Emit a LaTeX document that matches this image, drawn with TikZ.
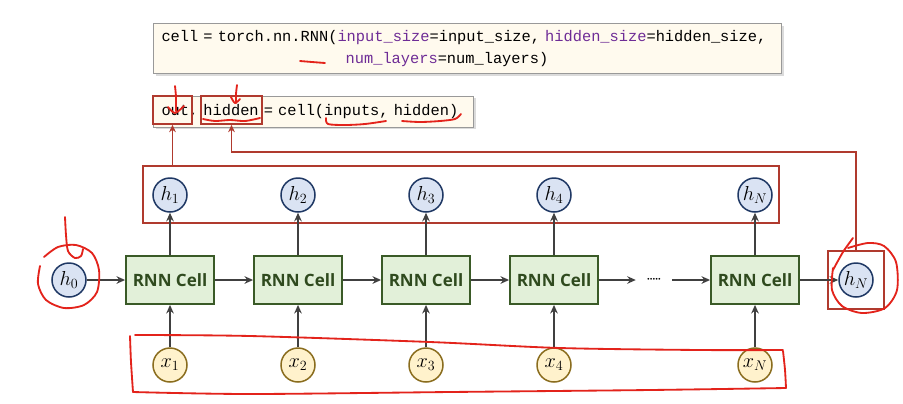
\documentclass[tikz,border=0pt]{standalone}
\usepackage{fontspec}
\setsansfont{Open Sans}
\newfontfamily\codefont{Liberation Mono}
\usetikzlibrary{arrows.meta}
\usetikzlibrary{shadows}

\definecolor{cellfill}{HTML}{E2F0D9}
\definecolor{celldraw}{HTML}{3A5A27}
\definecolor{celltext}{HTML}{2F4A1E}
\definecolor{hfill}{HTML}{DAE3F3}
\definecolor{hdraw}{HTML}{1F3864}
\definecolor{xfill}{HTML}{FFF2CC}
\definecolor{xdraw}{HTML}{8A6D1E}
\definecolor{arrowgray}{HTML}{404040}
\definecolor{codefill}{HTML}{FFFAEE}
\definecolor{kwpurple}{HTML}{6E2C96}
\definecolor{markred}{HTML}{B03A2E}
\definecolor{penred}{HTML}{E3231B}

\tikzset{
	rnncell/.style={draw=celldraw, line width=0.55mm, fill=cellfill, minimum width=26.4mm, minimum height=14.4mm, font=\sffamily\bfseries\fontsize{14.5}{16}\selectfont, text=celltext},
	hstate/.style={circle, draw=hdraw, line width=0.45mm, fill=hfill, minimum size=10.2mm, inner sep=0pt, font=\fontsize{17}{19}\selectfont},
	xinput/.style={circle, draw=xdraw, line width=0.45mm, fill=xfill, minimum size=10.2mm, inner sep=0pt, font=\fontsize{17}{19}\selectfont},
	flow/.style={draw=arrowgray, line width=0.45mm, -{Stealth[length=2.6mm, width=2.3mm, inset=0.9mm]}},
	codebox/.style={draw=gray!80, line width=0.3mm, fill=codefill, inner xsep=2.4mm, align=left, font=\codefont\fontsize{13.1}{18}\selectfont, drop shadow={shadow xshift=0.7mm, shadow yshift=-0.7mm, fill=gray!55}},
	markbox/.style={draw=markred, line width=0.5mm, inner sep=0pt},
	markarrow/.style={draw=markred, line width=0.45mm, -{Stealth[length=2.2mm, width=2mm]}},
	pen/.style={draw=penred, line width=0.55mm, line cap=round, line join=round}
}

\begin{document}
\begin{tikzpicture}[x=0.3mm, y=-0.3mm]
	\path[fill=white, use as bounding box] (0,0) rectangle (903,403);

	\node[codebox, anchor=north west, text width=183.6mm, minimum height=15mm] (rnncode) at (153,23) {cell = torch.nn.RNN(\textcolor{kwpurple}{input\_size}=input\_size, \textcolor{kwpurple}{hidden\_size}=hidden\_size,\\\hspace*{12em}\textcolor{kwpurple}{num\_layers}=num\_layers)};
	\node[codebox, anchor=west, text width=91.2mm, minimum height=9.3mm] (callcode) at (153,111.5) {out, hidden = cell(inputs, hidden)};

	\node[markbox, minimum width=11.7mm, minimum height=8.4mm] (outmark) at (172.5,110) {};
	\node[markbox, minimum width=18.3mm, minimum height=8.4mm] (hiddenmark) at (231.5,110) {};
	\node[markbox, minimum width=190.8mm, minimum height=17.1mm] (hbox) at (461,194.5) {};
	\node[markbox, minimum width=16.8mm, minimum height=17.4mm] (hNbox) at (856,280) {};

	\node[hstate] (h0) at (69,280) {$h_0$};
	\node[rnncell] (c1) at (170,280) {RNN Cell};
	\node[rnncell] (c2) at (298,280) {RNN Cell};
	\node[rnncell] (c3) at (426,280) {RNN Cell};
	\node[rnncell] (c4) at (554,280) {RNN Cell};
	\node[minimum width=10.8mm, inner sep=0pt, font=\fontsize{14}{16}\selectfont] (dots) at (654,280) {$\cdot\!\!\cdot\!\!\cdot\!\!\cdot\!\!\cdot$};
	\node[rnncell] (cN) at (755,280) {RNN Cell};
	\node[hstate] (hlast) at (856,280) {$h_N$};

	\node[hstate] (h1) at (170,195) {$h_1$};
	\node[hstate] (h2) at (298,195) {$h_2$};
	\node[hstate] (h3) at (426,195) {$h_3$};
	\node[hstate] (h4) at (554,195) {$h_4$};
	\node[hstate] (hN) at (755,195) {$h_N$};

	\node[xinput] (x1) at (170,365) {$x_1$};
	\node[xinput] (x2) at (298,365) {$x_2$};
	\node[xinput] (x3) at (426,365) {$x_3$};
	\node[xinput] (x4) at (554,365) {$x_4$};
	\node[xinput] (xN) at (755,365) {$x_N$};

	\draw[flow] (h0) -- (c1);
	\draw[flow] (c1) -- (c2);
	\draw[flow] (c2) -- (c3);
	\draw[flow] (c3) -- (c4);
	\draw[flow] (c4) -- (dots);
	\draw[flow] (dots) -- (cN);
	\draw[flow] (cN) -- (hlast);

	\draw[flow] (x1) -- (c1);
	\draw[flow] (x2) -- (c2);
	\draw[flow] (x3) -- (c3);
	\draw[flow] (x4) -- (c4);
	\draw[flow] (xN) -- (cN);
	\draw[flow] (c1) -- (h1);
	\draw[flow] (c2) -- (h2);
	\draw[flow] (c3) -- (h3);
	\draw[flow] (c4) -- (h4);
	\draw[flow] (cN) -- (hN);

	\coordinate (bend) at (856,152);
	\draw[markarrow] (outmark.south |- hbox.north) -- (outmark.south);
	\draw[markarrow] (hNbox.north) -- (bend) -| (hiddenmark.south);

	\draw[pen] plot[smooth] coordinates {(300,61) (312,62) (325,63)};
	\draw[pen] plot[smooth] coordinates {(175,86) (176,97) (176,111)};
	\draw[pen] plot[smooth] coordinates {(168,107) (175,113) (184,106)};
	\draw[pen] plot[smooth] coordinates {(237,85) (236,94) (236,103)};
	\draw[pen] plot[smooth] coordinates {(231,97) (235,103) (240,99)};
	\draw[pen] plot[smooth] coordinates {(203,119) (215,121) (230,120) (245,121) (260,118)};
	\draw[pen] plot[smooth] coordinates {(326,118) (328,124) (345,125) (365,124) (386,121)};
	\draw[pen] plot[smooth] coordinates {(402,121) (420,122) (440,121) (455,119) (461,114)};

	\draw[pen] plot[smooth] coordinates {(65,217) (66,235) (68,251) (75,258) (81,256) (83,249)};
	\draw[pen] plot[smooth] coordinates {(44,257) (58,247) (76,245) (92,253) (99,270) (97,292) (84,305) (64,308) (46,300) (38,284) (40,266)};
	\draw[pen] plot[smooth] coordinates {(853,238) (843,252) (833,270)};
	\draw[pen] plot[smooth] coordinates {(848,248) (868,243) (884,246) (896,262) (897,290) (885,308) (862,313) (842,306) (832,290) (833,268)};

	\draw[pen] plot[smooth] coordinates {(135,335) (250,336) (430,342) (560,348) (700,350) (783,350)};
	\draw[pen] plot[smooth] coordinates {(783,351) (785,370) (786,388)};
	\draw[pen] plot[smooth] coordinates {(786,388) (650,390) (450,392) (250,394) (133,392)};
	\draw[pen] plot[smooth] coordinates {(130,336) (131,362) (133,392)};
\end{tikzpicture}
\end{document}
